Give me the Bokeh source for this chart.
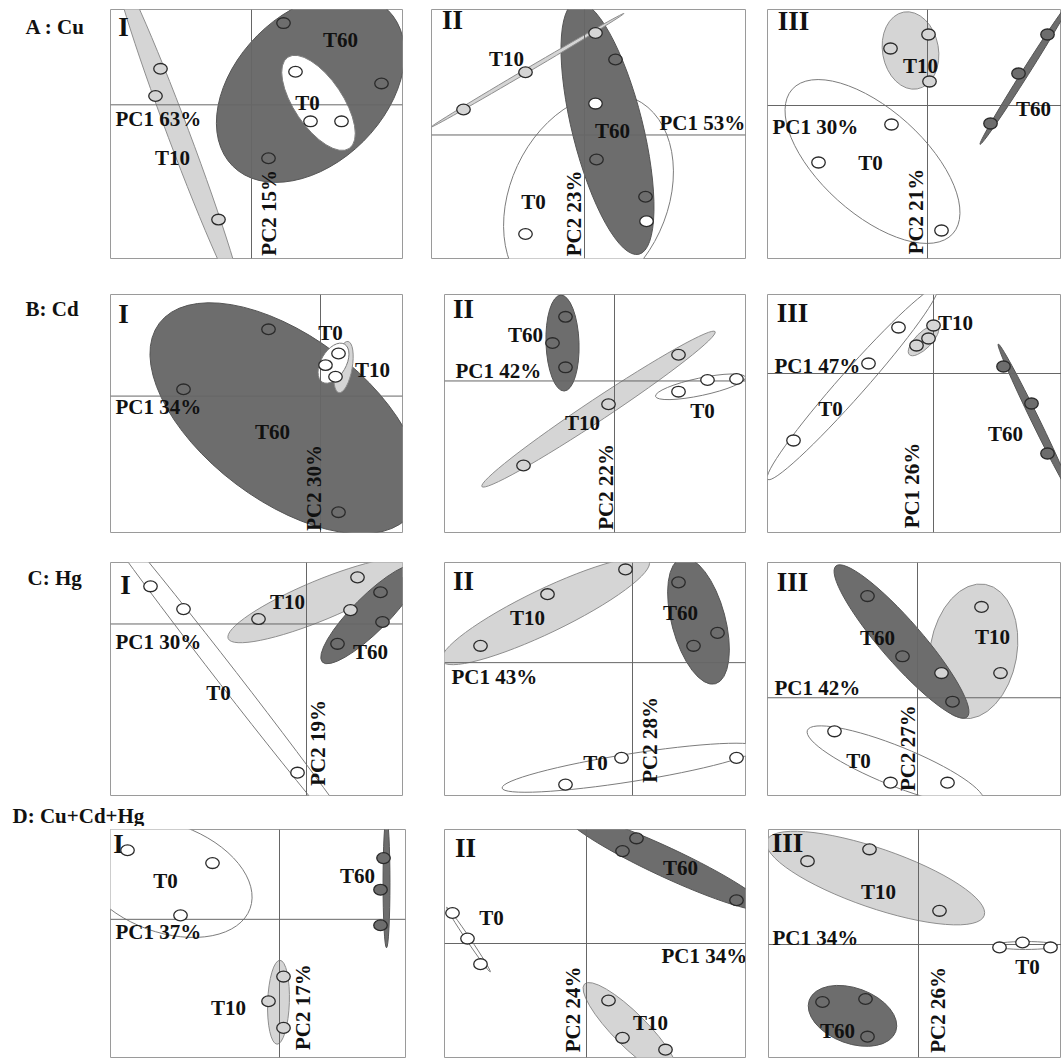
import math
from bokeh.plotting import figure
from bokeh.layouts import column, row
from bokeh.models import Span, Label, Range1d
from bokeh.embed import file_html
from bokeh.resources import INLINE

FONT = "Liberation Serif"
FILL = {"T0": "#ffffff", "T10": "#d5d5d5", "T60": "#6d6d6d"}
EDGE = {"T0": "#7c7c7c", "T10": "#8e8e8e", "T60": "#555555"}
PT_EDGE = "#2a2a2a"

# ---------------- data: PCA scores (x = PC1, y = PC2) ----------------
# ellipse tuples: (centre x, centre y, semi-major, semi-minor, angle in degrees)

# Row A : Cu
A1_x = {"T0": [4.4, 5.9, 9.0], "T10": [-9.1, -9.6, -3.3], "T60": [3.2, 13.0, 1.7]}
A1_y = {"T0": [3.4, -1.7, -1.7], "T10": [3.7, 0.9, -11.8], "T60": [8.4, 2.2, -5.5]}
A1_ell = {"T0": (6.7, 0.2, 5.5, 2.5, -56), "T10": (-7.3, -3.0, 18.0, 1.1, -69.4), "T60": (5.9, 1.7, 11.0, 7.7, 45)}
A1_var = ("PC1 63%", "PC2 15%")

A2_x = {"T0": [1.1, 6.2, -5.9], "T10": [-12.1, -5.9, 1.1], "T60": [3.1, 1.2, 6.1]}
A2_y = {"T0": [3.2, -8.8, -10.1], "T10": [2.6, 6.4, 10.4], "T60": [7.7, -2.5, -6.3]}
A2_ell = {"T0": (0.4, -6.5, 11.0, 8.0, 65), "T10": (-5.7, 6.6, 11.2, 0.2, 30.5), "T60": (2.3, 0.7, 13.0, 3.6, 104)}
A2_var = ("PC1 53%", "PC2 23%")

A3_x = {"T0": [-3.6, -10.9, 1.4], "T10": [0.1, -3.7, 0.2], "T60": [12.0, 9.1, 6.3]}
A3_y = {"T0": [-1.9, -5.7, -12.5], "T10": [7.1, 5.7, 2.4], "T60": [7.1, 3.2, -1.8]}
A3_ell = {"T0": (-5.5, -5.6, 10.8, 5.2, -42), "T10": (-1.7, 5.5, 3.9, 2.8, 100), "T60": (9.8, 3.3, 8.5, 0.35, 57.7)}
A3_var = ("PC1 30%", "PC2 21%")

# Row B : Cd
B1_x = {"T0": [1.8, 0.5, 1.5], "T10": [], "T60": [-5.2, -13.7, 1.8]}
B1_y = {"T0": [4.4, 3.2, 2.0], "T10": [], "T60": [6.9, 0.7, -12.0]}
B1_ell = {"T0": (1.3, 3.4, 2.2, 1.3, 60), "T10": (2.3, 3.0, 2.6, 0.9, 80), "T60": (-3.5, -2.3, 15.8, 8.5, -37)}
B1_var = ("PC1 34%", "PC2 30%")

B2_x = {"T0": [6.4, 9.3, 12.2], "T10": [6.4, -0.6, -9.1], "T60": [-4.9, -6.2, -4.9]}
B2_y = {"T0": [-1.1, 0.1, 0.2], "T10": [2.7, -2.4, -8.7], "T60": [6.6, 3.9, 1.4]}
B2_ell = {"T0": (8.6, -0.6, 4.6, 0.9, 12), "T10": (-1.6, -2.9, 14.0, 1.1, 33.6), "T60": (-5.2, 3.9, 4.8, 1.7, 92)}
B2_var = ("PC1 42%", "PC2 22%")

B3_x = {"T0": [-3.5, -6.5, -14.0], "T10": [0.0, -0.5, -1.7], "T60": [7.0, 9.8, 11.4]}
B3_y = {"T0": [4.6, 1.0, -6.7], "T10": [4.8, 3.5, 2.8], "T60": [0.7, -3.0, -8.0]}
B3_ell = {"T0": (-8.1, -1.0, 12.8, 1.3, 48.5), "T10": (-1.0, 3.3, 2.0, 0.8, 45), "T60": (10.2, -4.7, 8.5, 0.4, -64)}
B3_var = ("PC1 47%", "PC1 26%")

# Row C : Hg
C1_x = {"T0": [-15.6, -12.3, -0.9], "T10": [-4.8, 5.1, 4.4], "T60": [7.4, 7.6, 3.1]}
C1_y = {"T0": [3.8, 1.5, -15.0], "T10": [0.5, 4.7, 1.4], "T60": [3.2, 0.2, -2.0]}
C1_ell = {"T0": (-7.8, -5.5, 26.0, 1.0, -52.2), "T10": (1.4, 2.4, 10.0, 2.0, 22.6), "T60": (6.4, 1.0, 6.8, 1.8, 45)}
C1_var = ("PC1 30%", "PC2 19%")

C2_x = {"T0": [-1.1, -6.7, 10.4], "T10": [-15.2, -8.5, -0.7], "T60": [4.6, 6.1, 8.5]}
C2_y = {"T0": [-9.6, -12.3, -9.6], "T10": [1.7, 6.9, 9.4], "T60": [8.1, 1.7, 3.0]}
C2_ell = {"T0": (-0.2, -10.6, 13.0, 1.4, 9), "T10": (-8.7, 5.2, 11.5, 2.2, 25.7), "T60": (6.6, 4.2, 6.5, 2.7, 105)}
C2_var = ("PC1 43%", "PC2 28%")

C3_x = {"T0": [-8.3, -2.7, 3.0], "T10": [6.4, 8.3, 2.4], "T60": [-5.0, -1.5, 3.5]}
C3_y = {"T0": [-3.4, -8.6, -8.6], "T10": [9.2, 2.5, 2.5], "T60": [10.3, 4.2, -0.4]}
C3_ell = {"T0": (-2.2, -6.9, 9.5, 2.0, -22), "T10": (5.6, 4.7, 6.8, 4.4, 80), "T60": (-1.6, 5.7, 10.0, 2.1, -49)}
C3_var = ("PC1 42%", "PC2 27%")

# Row D : Cu+Cd+Hg
D1_x = {"T0": [-15.2, -6.7, -9.9], "T10": [0.4, -1.1, 0.4], "T60": [10.4, 10.1, 10.1]}
D1_y = {"T0": [7.0, 5.7, 0.4], "T10": [-5.8, -8.3, -11.0], "T60": [6.2, 3.0, -0.6]}
D1_ell = {"T0": (-11.4, 4.2, 9.0, 5.5, -20), "T10": (-0.1, -8.4, 4.2, 1.1, 88), "T60": (10.7, 3.7, 6.5, 0.35, 90)}
D1_var = ("PC1 37%", "PC2 17%")

D2_x = {"T0": [-13.4, -11.9, -10.6], "T10": [2.2, 3.6, 7.9], "T60": [5.0, 3.6, 15.0]}
D2_y = {"T0": [3.1, 0.5, -2.1], "T10": [-5.8, -9.6, -10.8], "T60": [10.7, 9.4, 4.4]}
D2_ell = {"T0": (-11.8, 0.4, 3.9, 0.2, -56), "T10": (4.4, -8.8, 6.5, 1.7, -45), "T60": (7.9, 8.3, 11.0, 1.5, -25)}
D2_var = ("PC1 34%", "PC2 24%")

D3_x = {"T0": [8.1, 10.4, 13.2], "T10": [-11.1, -4.9, 2.1], "T60": [-9.6, -5.3, -5.1]}
D3_y = {"T0": [-0.3, 0.2, -0.3], "T10": [8.4, 9.6, 3.4], "T60": [-5.8, -5.5, -9.3]}
D3_ell = {"T0": (10.7, -0.1, 3.2, 0.4, 0), "T10": (-4.3, 6.7, 11.5, 3.0, -19), "T60": (-6.6, -7.2, 4.6, 2.8, -20)}
D3_var = ("PC1 34%", "PC2 26%")

ROW_TITLES = ["A : Cu", "B: Cd", "C: Hg", "D: Cu+Cd+Hg"]
NUMERALS = ["I", "II", "III"]

# ---------------- layout (not data) ----------------
# size (w, h), borders (left, right, top, bottom), lower-left data corner
LAYOUT = {
    "A1": dict(size=(312, 277), border=(2, 18, 9, 12), origin=(-14.1, -15.8)),
    "A2": dict(size=(337, 277), border=(11, 12, 9, 14), origin=(-15.3, -12.6)),
    "A3": dict(size=(304, 277), border=(10, 0, 9, 19), origin=(-16.0, -15.3)),
    "B1": dict(size=(312, 273), border=(2, 18, 15, 12), origin=(-21.0, -14.1)),
    "B2": dict(size=(337, 273), border=(24, 12, 13, 15), origin=(-17.0, -15.6)),
    "B3": dict(size=(304, 273), border=(10, 0, 17, 18), origin=(-16.6, -15.9)),
    "C1": dict(size=(312, 250), border=(2, 18, 10, 5), origin=(-19.6, -17.3)),
    "C2": dict(size=(337, 250), border=(24, 12, 11, 4), origin=(-18.8, -13.4)),
    "C3": dict(size=(304, 250), border=(10, 0, 12, 2), origin=(-15.0, -9.9)),
    "D1": dict(size=(420, 233), border=(110, 15, 0, 2), origin=(-16.9, -14.0)),
    "D2": dict(size=(337, 233), border=(24, 12, 0, 1), origin=(-14.2, -11.6)),
    "D3": dict(size=(304, 233), border=(11, 0, 3, 0), origin=(-15.0, -11.4)),
}
# row-title boxes for rows A-C: (width, height, text x, text y) in box pixels
TITLE_BOX = {"A": (108, 277, 25, 257), "B": (108, 273, 25, 256), "C": (108, 250, 27, 233)}
D_STRIP = (260, 26, 12, 11)

# label anchor positions (data units): group labels, PC1 (left), PC2 (centre), numeral
LABELS = {
    "A1": dict(T0=(5.6, 0.2), T10=(-7.9, -5.5), T60=(8.9, 6.7), pc1=(-13.6, -1.5), pc2=(1.7, -11.1), num=(-12.8, 8.0)),
    "A2": dict(T0=(-5.1, -6.8), T10=(-7.8, 7.7), T60=(2.8, 0.4), pc1=(7.5, 1.2), pc2=(-1.1, -8.0), num=(-13.2, 11.7)),
    "A3": dict(T0=(-5.7, -5.7), T10=(-0.7, 4.0), T60=(10.6, -0.3), pc1=(-15.5, -2.1), pc2=(-1.2, -10.6), num=(-13.4, 8.5)),
    "B1": dict(T0=(1.0, 6.5), T10=(5.2, 2.7), T60=(-4.8, -3.7), pc1=(-20.5, -1.1), pc2=(-0.7, -9.5), num=(-19.7, 8.5)),
    "B2": dict(T0=(8.8, -3.1), T10=(-3.2, -4.3), T60=(-8.9, 4.7), pc1=(-15.9, 1.0), pc2=(-0.9, -10.9), num=(-15.1, 7.4)),
    "B3": dict(T0=(-10.3, -3.5), T10=(2.2, 5.1), T60=(7.2, -6.0), pc1=(-15.9, 0.8), pc2=(-2.2, -11.2), num=(-14.1, 6.1)),
    "C1": dict(T0=(-8.8, -7.0), T10=(-1.9, 2.2), T60=(6.4, -2.8), pc1=(-19.1, -1.8), pc2=(1.1, -12.0), num=(-18.1, 3.9)),
    "C2": dict(T0=(-3.7, -10.1), T10=(-10.5, 4.5), T60=(4.8, 5.0), pc1=(-18.1, -1.4), pc2=(1.7, -7.8), num=(-16.9, 8.2)),
    "C3": dict(T0=(-5.9, -6.4), T10=(7.5, 6.2), T60=(-4.0, 6.1), pc1=(-14.3, 1.0), pc2=(-1.0, -5.1), num=(-12.5, 11.7)),
    "D1": dict(T0=(-11.4, 3.9), T10=(-5.1, -9.0), T60=(7.8, 4.4), pc1=(-16.4, -1.3), pc2=(2.3, -8.9), num=(-16.1, 7.6)),
    "D2": dict(T0=(-9.5, 2.6), T10=(6.4, -8.1), T60=(9.4, 7.7), pc1=(7.5, -1.3), pc2=(-1.4, -6.7), num=(-12.1, 9.7)),
    "D3": dict(T0=(10.9, -2.3), T10=(-4.0, 5.3), T60=(-8.1, -8.7), pc1=(-14.6, 0.7), pc2=(1.9, -6.6), num=(-13.1, 10.2)),
}
ORDER = {"A1": ["T10", "T60", "T0"], "A2": ["T0", "T60", "T10"], "B1": ["T60", "T10", "T0"]}

DATA = {
    "A1": (A1_x, A1_y, A1_ell, A1_var), "A2": (A2_x, A2_y, A2_ell, A2_var), "A3": (A3_x, A3_y, A3_ell, A3_var),
    "B1": (B1_x, B1_y, B1_ell, B1_var), "B2": (B2_x, B2_y, B2_ell, B2_var), "B3": (B3_x, B3_y, B3_ell, B3_var),
    "C1": (C1_x, C1_y, C1_ell, C1_var), "C2": (C2_x, C2_y, C2_ell, C2_var), "C3": (C3_x, C3_y, C3_ell, C3_var),
    "D1": (D1_x, D1_y, D1_ell, D1_var), "D2": (D2_x, D2_y, D2_ell, D2_var), "D3": (D3_x, D3_y, D3_ell, D3_var),
}


def txt(p, x, y, text, size="21px", align="center", angle=0.0, baseline="middle"):
    p.add_layout(Label(x=x, y=y, text=text, text_font=FONT, text_font_size=size,
                       text_font_style="bold", text_color="#111111", text_align=align,
                       text_baseline=baseline, angle=angle))


def bare(w, h):
    p = figure(width=w, height=h, x_range=Range1d(0, w), y_range=Range1d(0, h), title=None,
               x_axis_location=None, y_axis_location=None, toolbar_location=None,
               output_backend="svg", min_border_left=0, min_border_right=0,
               min_border_top=0, min_border_bottom=0)
    p.grid.visible = False
    p.outline_line_color = None
    p.background_fill_color = "white"
    p.border_fill_color = "white"
    return p


def make_panel(key, ci):
    xs, ys, ell, var = DATA[key]
    lay = LAYOUT[key]
    lab = LABELS[key]
    W, H = lay["size"]
    bl, br, bt, bb = lay["border"]
    fw, fh = W - bl - br, H - bt - bb
    x0, y0 = lay["origin"]
    p = figure(width=W, height=H, x_range=Range1d(x0, x0 + fw / 10.0), y_range=Range1d(y0, y0 + fh / 10.0),
               title=None, x_axis_location=None, y_axis_location=None, toolbar_location=None,
               output_backend="svg", min_border_left=bl, min_border_right=br,
               min_border_top=bt, min_border_bottom=bb)
    p.grid.visible = False
    p.outline_line_color = "#9a9a9a"
    p.outline_line_width = 1
    p.background_fill_color = "white"
    p.border_fill_color = "white"

    for g in ORDER.get(key, ["T0", "T10", "T60"]):
        cx, cy, a, b, ang = ell[g]
        p.ellipse(x=[cx], y=[cy], width=[2 * a], height=[2 * b], angle=[math.radians(ang)],
                  fill_color=FILL[g], line_color=EDGE[g], line_width=1)

    p.add_layout(Span(location=0, dimension="width", line_color="#666666", line_width=1))
    p.add_layout(Span(location=0, dimension="height", line_color="#666666", line_width=1))

    for g in ["T10", "T60", "T0"]:
        if xs[g]:
            p.ellipse(x=xs[g], y=ys[g], width=1.35, height=1.1, fill_color=FILL[g],
                      line_color=PT_EDGE, line_width=1.3, level="overlay")

    for g in ["T0", "T10", "T60"]:
        lx, ly = lab[g]
        txt(p, lx, ly, g)
    txt(p, lab["pc1"][0], lab["pc1"][1], var[0], align="left")
    txt(p, lab["pc2"][0], lab["pc2"][1], var[1], angle=math.pi / 2)
    txt(p, lab["num"][0], lab["num"][1], NUMERALS[ci], size="27px")
    return p


children = []
for ri, r in enumerate("ABC"):
    w, h, tx, ty = TITLE_BOX[r]
    tb = bare(w, h)
    txt(tb, tx, ty, ROW_TITLES[ri], align="left")
    children.append(row(tb, *[make_panel(f"{r}{ci + 1}", ci) for ci in range(3)]))

sw, sh, sx, sy = D_STRIP
strip = bare(sw, sh)
txt(strip, sx, sy, ROW_TITLES[3], align="left")
children.append(strip)
children.append(row(*[make_panel(f"D{ci + 1}", ci) for ci in range(3)]))

layout = column(*children)

open("out.html", "w").write(file_html(layout, INLINE))
